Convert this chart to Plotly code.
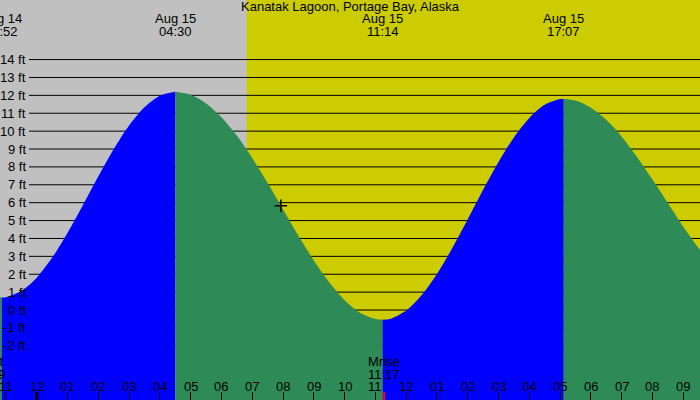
import plotly.graph_objects as go

# hours counted from Aug 15 00:00 (negative = Aug 14)
TITLE = "Kanatak Lagoon, Portage Bay, Alaska"

EXTREME_TIMES = [-1.133, 4.5, 11.233, 17.117]
EXTREME_DATES = ["Aug 14", "Aug 15", "Aug 15", "Aug 15"]
EXTREME_CLOCK = ["22:52", "04:30", "11:14", "17:07"]

TIDE_TIMES = [-1.3, -1.133, -1.0, -0.5, 0.0, 0.5, 1.0, 1.5, 2.0, 2.5, 3.0, 3.5, 4.0, 4.5,
              5.0, 5.5, 6.0, 6.5, 7.0, 7.5, 8.0, 8.5, 9.0, 9.5, 10.0, 10.5, 11.0, 11.233,
              11.5, 12.0, 12.5, 13.0, 13.5, 14.0, 14.5, 15.0, 15.5, 16.0, 16.5, 17.0, 17.117,
              17.5, 18.0, 18.5, 19.0, 19.5, 20.0, 20.5, 21.0, 21.5, 21.7]
TIDE_FEET = [0.76, 0.70, 0.72, 1.06, 1.81, 2.92, 4.31, 5.86, 7.46, 8.98, 10.31, 11.33, 11.98, 12.2,
             12.03, 11.55, 10.78, 9.75, 8.5, 7.1, 5.62, 4.15, 2.77, 1.55, 0.55, -0.15, -0.5, -0.55,
             -0.49, -0.03, 0.83, 2.02, 3.46, 5.07, 6.72, 8.28, 9.65, 10.74, 11.47, 11.79, 11.8,
             11.71, 11.31, 10.63, 9.69, 8.56, 7.29, 5.97, 4.66, 3.45, 3.0]

SUNRISE = 6.82
NOW_TIME = [7.93]
NOW_FEET = [5.83]

MOON_TIMES = [-1.52, 11.283]
MOON_NAMES = ["Mset", "Mrise"]
MOON_CLOCK = ["22:29", "11:17"]

HOUR_TICKS = list(range(-1, 22))
HOUR_LABELS = ["11", "12", "01", "02", "03", "04", "05", "06", "07", "08", "09", "10",
               "11", "12", "01", "02", "03", "04", "05", "06", "07", "08", "09"]
FEET_TICKS = list(range(-2, 15))

X_RANGE = [-1.192, 21.543]
Y_RANGE = [-5.03, 17.33]
BASE = -6

GRAY = "#C0C0C0"
YELLOW = "#CCCC00"
BLUE = "#0000FF"
GREEN = "#2E8B57"
FONT = "Liberation Sans"
SIZE = 13
WIDTH, HEIGHT = 700, 400

fig = go.Figure()

# split the curve at each high/low, colour by rising or falling
bounds = [TIDE_TIMES[0]] + EXTREME_TIMES + [TIDE_TIMES[-1]]
for i in range(len(bounds) - 1):
    a, b = bounds[i], bounds[i + 1]
    xs = [t for t in TIDE_TIMES if a <= t <= b]
    ys = [TIDE_FEET[TIDE_TIMES.index(t)] for t in xs]
    color = BLUE if ys[-1] > ys[0] else GREEN
    fig.add_trace(go.Scatter(x=xs, y=[BASE] * len(xs), mode="lines",
                             line=dict(width=0), hoverinfo="skip", showlegend=False))
    fig.add_trace(go.Scatter(x=xs, y=ys, mode="lines", fill="tonexty", fillcolor=color,
                             line=dict(width=0, color=color, shape="spline", smoothing=0.8),
                             hoverinfo="skip", showlegend=False))

fig.add_trace(go.Scatter(x=NOW_TIME, y=NOW_FEET, mode="markers",
                         marker=dict(symbol="cross-thin", size=9,
                                     line=dict(color="black", width=1.5)),
                         hoverinfo="skip", showlegend=False))

shapes = [
    dict(type="rect", xref="x", yref="paper", x0=X_RANGE[0] - 1, x1=SUNRISE, y0=0, y1=1,
         fillcolor=GRAY, line=dict(width=0), layer="below"),
    dict(type="rect", xref="x", yref="paper", x0=SUNRISE, x1=X_RANGE[1] + 1, y0=0, y1=1,
         fillcolor=YELLOW, line=dict(width=0), layer="below"),
]
for ft in FEET_TICKS:
    shapes.append(dict(type="line", xref="paper", yref="y", x0=29 / WIDTH, x1=1, y0=ft, y1=ft,
                       line=dict(color="black", width=1), layer="below"))
# midnight tick is heavier, moonrise tick red
shapes.append(dict(type="line", xref="x", yref="paper", x0=0, x1=0, y0=0, y1=0.02,
                   line=dict(color="black", width=3)))
shapes.append(dict(type="line", xref="x", yref="paper", x0=MOON_TIMES[1], x1=MOON_TIMES[1],
                   y0=0, y1=0.02, line=dict(color="red", width=2)))


def px_y(p):
    return 1 - p / HEIGHT


def at_time(t):
    # plotly hides axis-referenced annotations outside the range,
    # so pin those to the left edge and shift by pixels instead
    if t >= X_RANGE[0]:
        return dict(x=t, xref="x")
    px_per_hour = WIDTH / (X_RANGE[1] - X_RANGE[0])
    return dict(x=X_RANGE[0], xref="x", xshift=(t - X_RANGE[0]) * px_per_hour)


ann = [dict(text=TITLE, x=0.5, xref="paper", y=px_y(7), yref="paper")]
for t, d, c in zip(EXTREME_TIMES, EXTREME_DATES, EXTREME_CLOCK):
    ann.append(dict(text=d, y=px_y(19), yref="paper", **at_time(t)))
    ann.append(dict(text=c, y=px_y(31), yref="paper", **at_time(t)))
for t, n, c in zip(MOON_TIMES, MOON_NAMES, MOON_CLOCK):
    ann.append(dict(text=n, y=px_y(361), yref="paper", **at_time(t)))
    ann.append(dict(text=c, y=px_y(374), yref="paper", **at_time(t)))
for t, lab in zip(HOUR_TICKS, HOUR_LABELS):
    ann.append(dict(text=lab, y=px_y(386), yref="paper", **at_time(t)))
for ft in FEET_TICKS:
    ann.append(dict(text=f"{ft} ft", x=27 / WIDTH, xref="paper", y=ft, yref="y",
                    xanchor="right"))
for a in ann:
    a["font"] = dict(family=FONT, size=SIZE, color="black")
    a["borderpad"] = 0
    a["showarrow"] = False
    a["yanchor"] = "middle"

fig.update_layout(
    width=WIDTH, height=HEIGHT,
    margin=dict(l=0, r=0, t=0, b=0),
    paper_bgcolor=GRAY, plot_bgcolor=GRAY,
    shapes=shapes, annotations=ann,
    xaxis=dict(range=X_RANGE, tickvals=HOUR_TICKS, showticklabels=False,
               ticks="inside", ticklen=8, tickcolor="black", tickwidth=1,
               showgrid=False, zeroline=False, showline=False),
    yaxis=dict(range=Y_RANGE, visible=False),
    font=dict(family=FONT, size=SIZE, color="black"),
)

fig.write_html("out.html", config={"displayModeBar": False},
               post_script="document.body.style.margin='0';")
